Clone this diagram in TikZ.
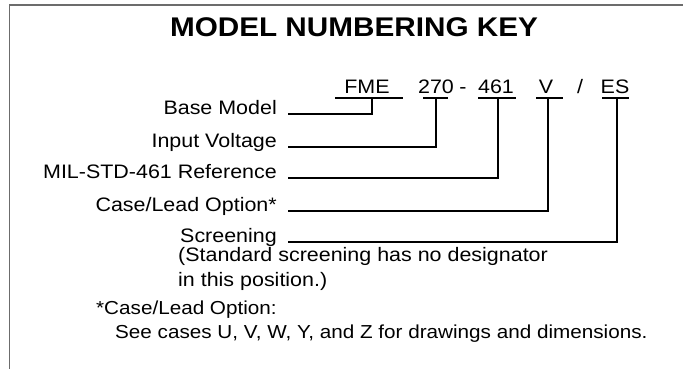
\documentclass[tikz,border=0pt]{standalone}
\usepackage{fontspec}
\setmainfont{Liberation Sans}[FakeStretch=1.1]
\begin{document}
\begin{tikzpicture}[x=1pt,y=1pt,
  lab/.style={inner sep=0pt,font=\fontsize{19.5}{22}\selectfont},
  note/.style={inner sep=0pt,font=\fontsize{18.8}{22}\selectfont},
  code/.style={inner sep=0pt,font=\fontsize{19.5}{22}\selectfont},
  conn/.style={line width=2pt,line cap=rect},
  frame/.style={draw=gray!85!black,line width=1.5pt}]
\useasboundingbox (0,0) rectangle (683,369);
\draw[frame] (9.5,0) -- (9.5,364) -- (683,364);
\node[inner sep=0pt,anchor=base,font=\fontsize{27}{30}\bfseries\selectfont] (title) at (354,332) {MODEL NUMBERING KEY};
% code row
\node[code,anchor=base] (fme) at (367,275) {FME};
\node[code,anchor=base] (v270) at (436,275) {270};
\node[code,anchor=base] (dash) at (463,275) {-};
\node[code,anchor=base] (v461) at (496,275) {461};
\node[code,anchor=base] (vv) at (546,275) {V};
\node[code,anchor=base] (slash) at (580,275) {/};
\node[code,anchor=base] (es) at (615,275) {ES};
\coordinate (fmeL) at (335,271); \coordinate (fmeR) at (403,271); \coordinate (fmeU) at (372,271);
\coordinate (a1L) at (423,271); \coordinate (a1R) at (448,271); \coordinate (a1U) at (436,271);
\coordinate (a2L) at (478,271); \coordinate (a2R) at (516,271); \coordinate (a2U) at (498,271);
\coordinate (a3L) at (536,271); \coordinate (a3R) at (563,271); \coordinate (a3U) at (548,271);
\coordinate (a4L) at (602,271); \coordinate (a4R) at (629,271); \coordinate (a4U) at (617,271);
\draw[conn,line cap=butt] (fmeL) -- (fmeR);
\draw[conn,line cap=butt] (a1L) -- (a1R);
\draw[conn,line cap=butt] (a2L) -- (a2R);
\draw[conn,line cap=butt] (a3L) -- (a3R);
\draw[conn,line cap=butt] (a4L) -- (a4R);
% labels
\node[lab,anchor=base east] (base) at (277,254) {Base Model};
\node[lab,anchor=base east] (input) at (277,221) {Input Voltage};
\node[lab,anchor=base east] (mil) at (277,190) {MIL-STD-461 Reference};
\node[lab,anchor=base east] (case) at (277,157) {Case/Lead Option*};
\node[lab,anchor=base east] (scr) at (277,126) {Screening};
\draw[conn] ([xshift=12pt,yshift=1pt]base.base east) -| (fmeU);
\draw[conn] ([xshift=12pt,yshift=1pt]input.base east) -| (a1U);
\draw[conn] ([xshift=12pt,yshift=1pt]mil.base east) -| (a2U);
\draw[conn] ([xshift=12pt,yshift=1pt]case.base east) -| (a3U);
\draw[conn] ([xshift=12pt,yshift=1pt]scr.base east) -| (a4U);
% notes
\node[lab,anchor=base west] (n1) at (178,107) {(Standard screening has no designator};
\node[lab,anchor=base west] (n2) at (178,82) {in this position.)};
\node[note,anchor=base west] (f1) at (96,54) {*Case/Lead Option:};
\node[note,anchor=base west] (f2) at (115,30) {See cases U, V, W, Y, and Z for drawings and dimensions.};
\end{tikzpicture}
\end{document}
